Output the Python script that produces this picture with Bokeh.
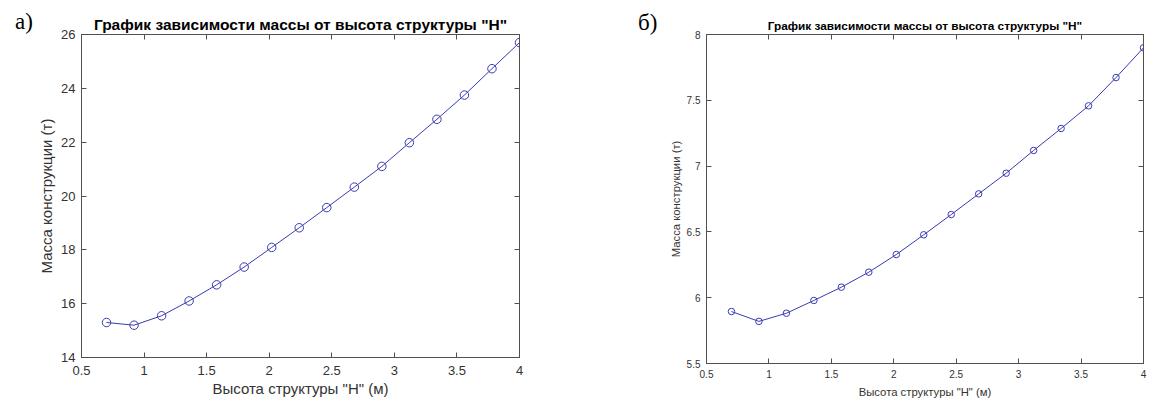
from jinja2 import Template
from bokeh.plotting import figure
from bokeh.models import LinearAxis, Range1d, NumeralTickFormatter, FixedTicker
from bokeh.embed import file_html
from bokeh.resources import INLINE

# ---------------- data ----------------
height_m = [0.70, 0.92, 1.14, 1.36, 1.58, 1.80, 2.02, 2.24,
            2.46, 2.68, 2.90, 3.12, 3.34, 3.56, 3.78, 4.00]
mass_a = [15.30, 15.20, 15.55, 16.10, 16.70, 17.36, 18.09, 18.82,
          19.57, 20.33, 21.10, 21.98, 22.85, 23.75, 24.73, 25.70]
mass_b = [5.895, 5.820, 5.882, 5.979, 6.080, 6.194, 6.328, 6.478,
          6.632, 6.789, 6.946, 7.119, 7.286, 7.458, 7.673, 7.899]
x_ticks = [0.5, 1, 1.5, 2, 2.5, 3, 3.5, 4]
y_ticks_a = [14, 16, 18, 20, 22, 24, 26]
y_ticks_b = [5.5, 6, 6.5, 7, 7.5, 8]
title_text = 'График зависимости массы от высота структуры "H"'
x_label = 'Высота структуры "H" (м)'
y_label = 'Масса конструкции (т)'
panel_tags = ["а)", "б)"]

AX = "#505050"
TXT = "#333333"
LINE = "#3a3ab2"
FONT = "Liberation Sans"


def style_axis(ax, ticks, lab_size, show_labels=True):
    ax.ticker = FixedTicker(ticks=ticks)
    ax.axis_line_color = AX
    ax.major_tick_line_color = AX
    ax.major_tick_in = 5
    ax.major_tick_out = 0
    ax.minor_tick_in = 0
    ax.minor_tick_out = 0
    ax.minor_tick_line_color = None
    ax.major_label_text_font = FONT
    ax.major_label_text_color = TXT
    if show_labels:
        ax.major_label_text_font_size = lab_size
        ax.formatter = NumeralTickFormatter(format="0.[0]")
    else:
        ax.major_label_text_font_size = "1px"
        ax.major_label_text_color = None
        ax.major_label_standoff = 0


def make_panel(y_vals, y_ticks, w, h, bl, br, bt, bb, fs_title, fs_tick, fs_lab,
               msize, xtick_so, ytick_so, xlab_so, ylab_so, title_so):
    y0, y1 = y_ticks[0], y_ticks[-1]
    p = figure(width=w, height=h, output_backend="svg", toolbar_location=None,
               x_range=Range1d(0.5, 4.0), y_range=Range1d(y0, y1),
               min_border_left=bl, min_border_right=br, min_border_top=bt,
               min_border_bottom=bb, background_fill_color="white",
               border_fill_color="white")
    p.grid.visible = False
    p.outline_line_color = AX
    p.title.text = title_text
    p.title.align = "center"
    p.title.text_font = FONT
    p.title.text_font_size = fs_title
    p.title.text_font_style = "bold"
    p.title.text_color = "black"
    p.title.standoff = title_so

    style_axis(p.xaxis[0], x_ticks, fs_tick)
    style_axis(p.yaxis[0], y_ticks, fs_tick)
    p.xaxis[0].major_label_standoff = xtick_so
    p.yaxis[0].major_label_standoff = ytick_so
    for ax, lab, st in ((p.xaxis[0], x_label, xlab_so),
                        (p.yaxis[0], y_label, ylab_so)):
        ax.axis_label = lab
        ax.axis_label_text_font = FONT
        ax.axis_label_text_font_size = fs_lab
        ax.axis_label_text_font_style = "normal"
        ax.axis_label_text_color = TXT
        ax.axis_label_standoff = st

    top_ax = LinearAxis()
    style_axis(top_ax, x_ticks, fs_tick, show_labels=False)
    p.add_layout(top_ax, "above")
    right_ax = LinearAxis()
    style_axis(right_ax, y_ticks, fs_tick, show_labels=False)
    p.add_layout(right_ax, "right")

    p.line(height_m, y_vals, line_color=LINE, line_width=1)
    p.scatter(height_m, y_vals, marker="circle", size=msize, fill_color=None,
              line_color=LINE, line_width=1)
    return p


# left panel: canvas x 0..628, frame 81..519 x 34..357
p1 = make_panel(mass_a, y_ticks_a, w=628, h=401, bl=81, br=109, bt=34, bb=44,
                fs_title="15.5px", fs_tick="13px", fs_lab="15px", msize=8.5,
                xtick_so=8, ytick_so=6, xlab_so=2, ylab_so=3, title_so=3)
# right panel: canvas x 628..1157, frame 706..1143 x 34..363
p2 = make_panel(mass_b, y_ticks_b, w=529, h=401, bl=78, br=14, bt=34, bb=38,
                fs_title="11.8px", fs_tick="10px", fs_lab="11.3px", msize=6.5,
                xtick_so=6, ytick_so=6, xlab_so=5, ylab_so=2, title_so=3)

# two independent roots side by side (so their frames are not aligned),
# plus the panel letters "а)" / "б)"
page_template = Template("""{% extends base %}
{% block contents %}
<div style="display:flex;flex-direction:row;align-items:flex-start;position:relative;">
{{ super() }}
<div style="position:absolute;left:15px;top:10px;font-family:'Liberation Serif';font-size:23px;line-height:1;color:#000;">{{ tags[0] }}</div>
<div style="position:absolute;left:638px;top:11px;font-family:'Liberation Serif';font-size:23px;line-height:1;color:#000;">{{ tags[1] }}</div>
</div>
{% endblock %}
""")

open("out.html", "w").write(file_html([p1, p2], INLINE, template=page_template,
                                      template_variables={"tags": panel_tags}))
